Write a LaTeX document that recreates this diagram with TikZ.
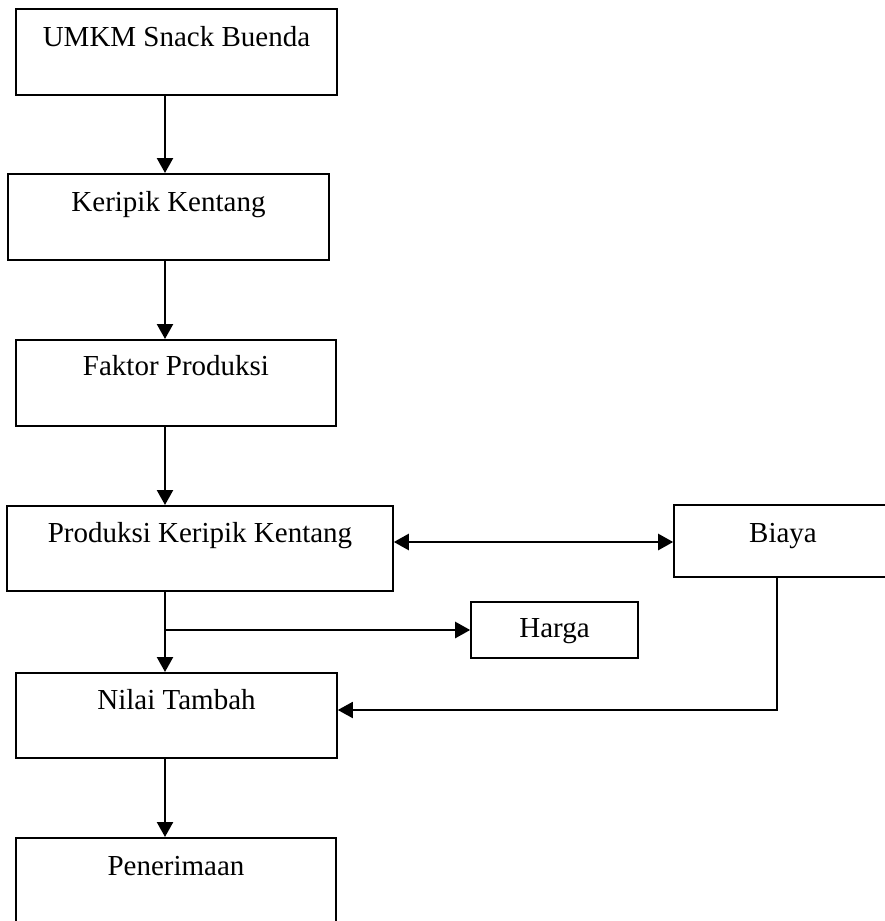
\documentclass[tikz,border=0pt]{standalone}
\usepackage{fontspec}
\setmainfont{Liberation Serif}
\usetikzlibrary{positioning,arrows.meta}
\tikzset{
    base/.style={font=\fontsize{29}{34}\selectfont},
    blok/.style={base, rectangle, draw=black, line width=1.6pt, inner sep=0pt, anchor=north},
    flow/.style={-{Triangle[length=15pt,width=16pt]}, line width=2.4pt},
    twoway/.style={{Triangle[length=15pt,width=16pt]}-{Triangle[length=15pt,width=16pt]}, line width=2.4pt}
}

\begin{document}
\begin{tikzpicture}[x=1pt, y=-1pt]
  \clip (0,0) rectangle (885,921);

  % main column
  \node[blok, minimum width=321pt, text height=38pt, text depth=48pt] (umkm) at (176.5,8) {UMKM Snack Buenda};
  \node[blok, minimum width=321pt, text height=38pt, text depth=48pt] (keripik) at (168.5,173) {Keripik Kentang};
  \node[blok, minimum width=320pt, text height=36pt, text depth=50pt] (faktor) at (176,339) {Faktor Produksi};
  \node[blok, minimum width=386pt, text height=37pt, text depth=48pt] (produksi) at (200,505) {Produksi Keripik Kentang};
  \node[blok, minimum width=321pt, text height=37pt, text depth=48pt] (nilai) at (176.5,672) {Nilai Tambah};
  \node[blok, minimum width=320pt, text height=38pt, text depth=48pt] (terima) at (176,837) {Penerimaan};

  % side boxes
  \node[blok, minimum width=218pt, text height=38pt, text depth=34pt] (biaya) at (783,504) {Biaya};
  \node[blok, minimum width=167pt, text height=36pt, text depth=20pt] (harga) at (554.5,601) {Harga};

  % spine of the column, branch point and return corner from Biaya
  \coordinate (spine) at (165,0);
  \coordinate (split) at (165,630);
  \coordinate (turn) at (777,710);
  \coordinate (level) at (0,542);

  % arrows down the column
  \draw[flow] (umkm.south -| spine) -- (keripik.north -| spine);
  \draw[flow] (keripik.south -| spine) -- (faktor.north -| spine);
  \draw[flow] (faktor.south -| spine) -- (produksi.north -| spine);
  \draw[flow] (produksi.south -| spine) -- (nilai.north -| spine);
  \draw[flow] (nilai.south -| spine) -- (terima.north -| spine);

  % branch to Harga
  \draw[flow] (split) -- (split -| harga.west);

  % Produksi <-> Biaya
  \draw[twoway] (produksi.east |- level) -- (biaya.west |- level);

  % Biaya back to Nilai Tambah
  \draw[flow, line width=1.9pt] (biaya.south -| turn) -- (turn) -- (turn -| nilai.east);
\end{tikzpicture}
\end{document}
